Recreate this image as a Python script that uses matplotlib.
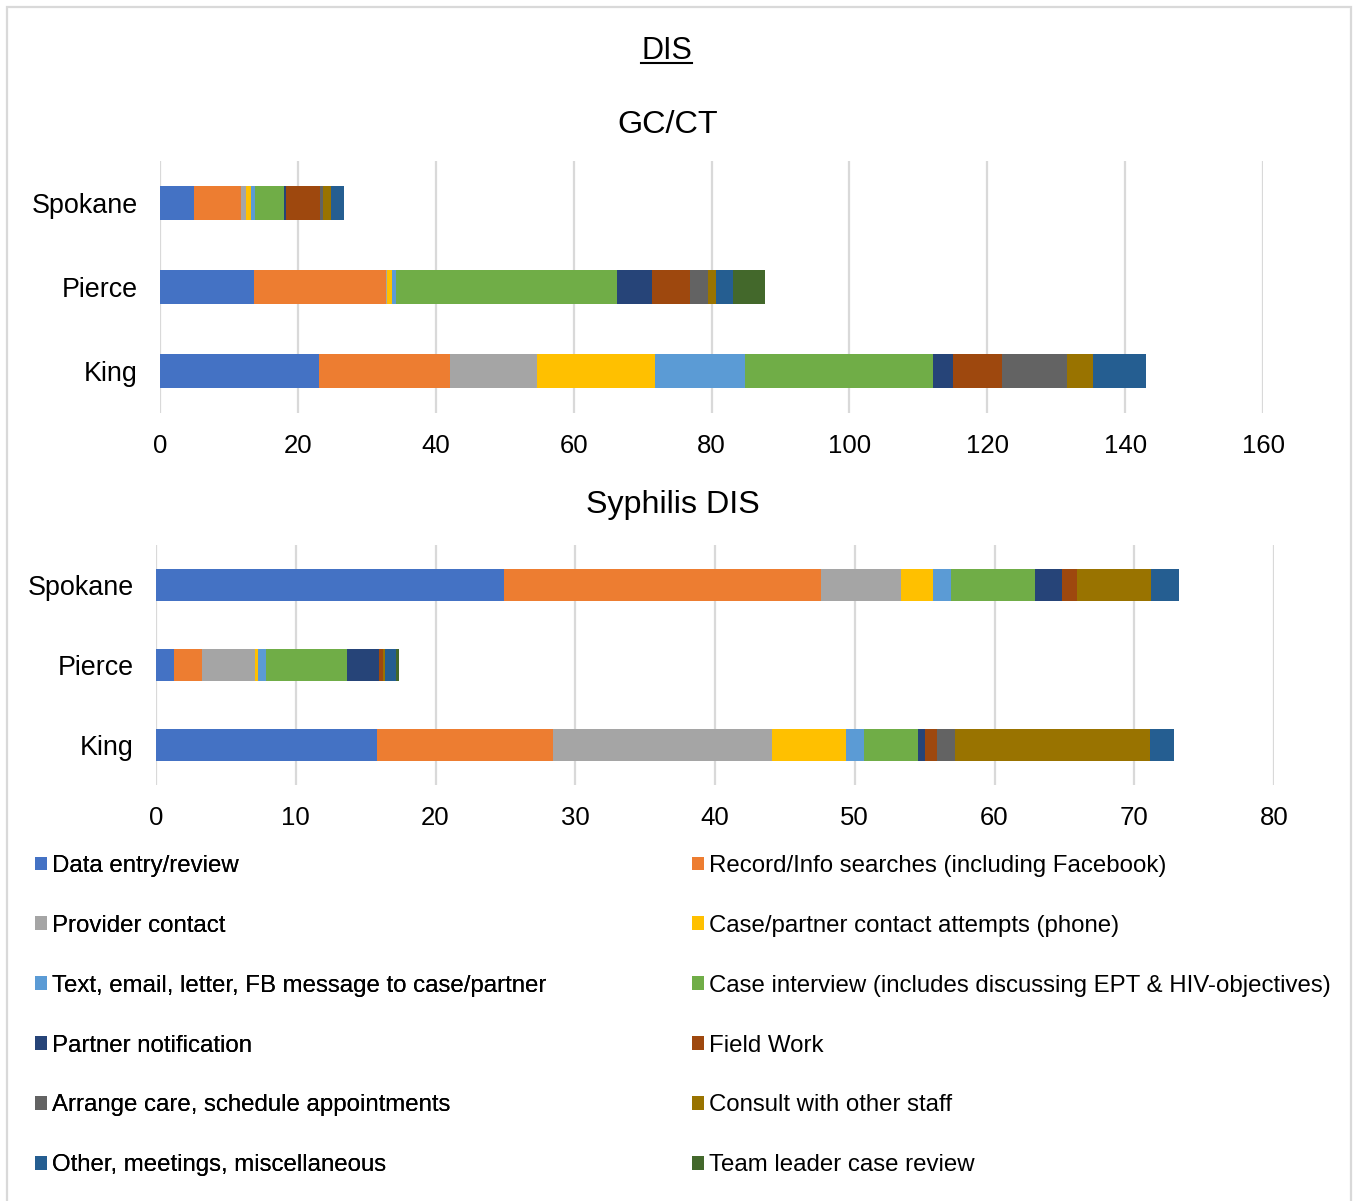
import matplotlib
matplotlib.use("Agg")
import matplotlib.pyplot as plt
import numpy as np
from matplotlib.patches import Rectangle
from matplotlib.lines import Line2D

plt.rcParams["font.family"] = ["Liberation Sans", "DejaVu Sans"]

# ---- data -------------------------------------------------------------
counties = ["King", "Pierce", "Spokane"]  # bottom to top

activities = [
    "Data entry/review",
    "Record/Info searches (including Facebook)",
    "Provider contact",
    "Case/partner contact attempts (phone)",
    "Text, email, letter, FB message to case/partner",
    "Case interview (includes discussing EPT & HIV-objectives)",
    "Partner notification",
    "Field Work",
    "Arrange care, schedule appointments",
    "Consult with other staff",
    "Other, meetings, miscellaneous",
    "Team leader case review",
]

colors = ["#4472C4", "#ED7D31", "#A5A5A5", "#FFC000", "#5B9BD5", "#70AD47",
          "#264478", "#9E480E", "#636363", "#997300", "#255E91", "#43682B"]

# GC/CT hours per activity: [King, Pierce, Spokane]
gcct_data_entry   = [23.1, 13.6, 5.0]
gcct_record       = [18.9, 19.2, 6.8]
gcct_provider     = [12.7, 0.2, 0.7]
gcct_phone        = [17.1, 0.7, 0.7]
gcct_text         = [13.0, 0.5, 0.6]
gcct_interview    = [27.3, 32.1, 4.2]
gcct_partner      = [3.0, 5.0, 0.3]
gcct_field        = [7.1, 5.6, 4.9]
gcct_arrange      = [9.4, 2.6, 0.5]
gcct_consult      = [3.8, 1.2, 1.1]
gcct_other        = [7.7, 2.4, 1.9]
gcct_team_review  = [0.0, 4.7, 0.0]

# Syphilis hours per activity: [King, Pierce, Spokane]
syph_data_entry   = [15.8, 1.3, 24.9]
syph_record       = [12.6, 2.0, 22.7]
syph_provider     = [15.7, 3.8, 5.7]
syph_phone        = [5.3, 0.2, 2.3]
syph_text         = [1.25, 0.55, 1.3]
syph_interview    = [3.9, 5.8, 6.0]
syph_partner      = [0.45, 2.3, 1.9]
syph_field        = [0.85, 0.26, 1.1]
syph_arrange      = [1.3, 0.0, 0.0]
syph_consult      = [14.0, 0.15, 5.3]
syph_other        = [1.7, 0.8, 2.0]
syph_team_review  = [0.0, 0.2, 0.0]

gcct_series = [gcct_data_entry, gcct_record, gcct_provider, gcct_phone, gcct_text,
               gcct_interview, gcct_partner, gcct_field, gcct_arrange, gcct_consult,
               gcct_other, gcct_team_review]
syph_series = [syph_data_entry, syph_record, syph_provider, syph_phone, syph_text,
               syph_interview, syph_partner, syph_field, syph_arrange, syph_consult,
               syph_other, syph_team_review]

gcct_ticks = [0, 20, 40, 60, 80, 100, 120, 140, 160]
syph_ticks = [0, 10, 20, 30, 40, 50, 60, 70, 80]

# ---- figure -----------------------------------------------------------
W, H = 1359, 1201
fig = plt.figure(figsize=(W / 100, H / 100), dpi=100)

GRID = "#D9D9D9"


def px_axes(left, top, right, bottom):
    return fig.add_axes([left / W, 1 - bottom / H, (right - left) / W, (bottom - top) / H])


def stacked(ax, series, ticks):
    y = np.arange(len(counties))
    left = np.zeros(len(counties))
    handles = []
    for vals, col, name in zip(series, colors, activities):
        vals = np.asarray(vals, dtype=float)
        h = ax.barh(y, vals, left=left, height=0.4, color=col, label=name,
                    edgecolor="none", zorder=3)
        handles.append(h)
        left += vals
    ax.set_ylim(-0.5, len(counties) - 0.5)
    ax.set_xlim(ticks[0], ticks[-1])
    ax.set_xticks(ticks)
    ax.set_yticks(y)
    ax.set_yticklabels(counties)
    ax.grid(axis="x", color=GRID, linewidth=1.6, zorder=0)
    ax.set_axisbelow(True)
    for s in ax.spines.values():
        s.set_visible(False)
    ax.tick_params(axis="both", length=0, colors="black")
    ax.tick_params(axis="x", pad=15.2, labelsize=18.5)
    ax.tick_params(axis="y", pad=16, labelsize=19.4)
    return handles


ax1 = px_axes(160, 161, 1263, 413)
handles = stacked(ax1, gcct_series, gcct_ticks)

ax2 = px_axes(156, 545, 1274, 785)
stacked(ax2, syph_series, syph_ticks)

# ---- titles -----------------------------------------------------------
t_main = fig.text(666.5 / W, 1 - 59 / H, "DIS", ha="center", va="baseline", fontsize=22)
fig.text(667.5 / W, 1 - 133 / H, "GC/CT", ha="center", va="baseline", fontsize=23.3)
fig.text(673 / W, 1 - 513 / H, "Syphilis DIS", ha="center", va="baseline", fontsize=23.2)

# underline under the main heading
fig.canvas.draw()
bb = t_main.get_window_extent(renderer=fig.canvas.get_renderer())
uy = 1 - 63 / H
fig.add_artist(Line2D([bb.x0 / W, bb.x1 / W], [uy, uy], transform=fig.transFigure,
                      color="black", linewidth=1.5))

# ---- legend (two columns, row-wise order) -----------------------------
leg_kw = dict(loc="upper left", frameon=False, fontsize=17.3, borderpad=0,
              borderaxespad=0, handlelength=0.51, handleheight=0.51,
              handletextpad=0.21, labelspacing=1.575)
left_idx = [0, 2, 4, 6, 8, 10]
right_idx = [1, 3, 5, 7, 9, 11]
leg1 = fig.legend([handles[i] for i in left_idx], [activities[i] for i in left_idx],
                  bbox_to_anchor=(35 / W, 1 - 855 / H), **leg_kw)
leg2 = fig.legend([handles[i] for i in right_idx], [activities[i] for i in right_idx],
                  bbox_to_anchor=(692 / W, 1 - 855 / H), **leg_kw)
fig.add_artist(leg1)

# ---- outer chart border ------------------------------------------------
fig.add_artist(Rectangle((7 / W, -0.01), (1351 - 7) / W, 1 - 7 / H + 0.01,
                         transform=fig.transFigure, fill=False,
                         edgecolor=GRID, linewidth=1.6))

fig.savefig("out.png", dpi=100)
